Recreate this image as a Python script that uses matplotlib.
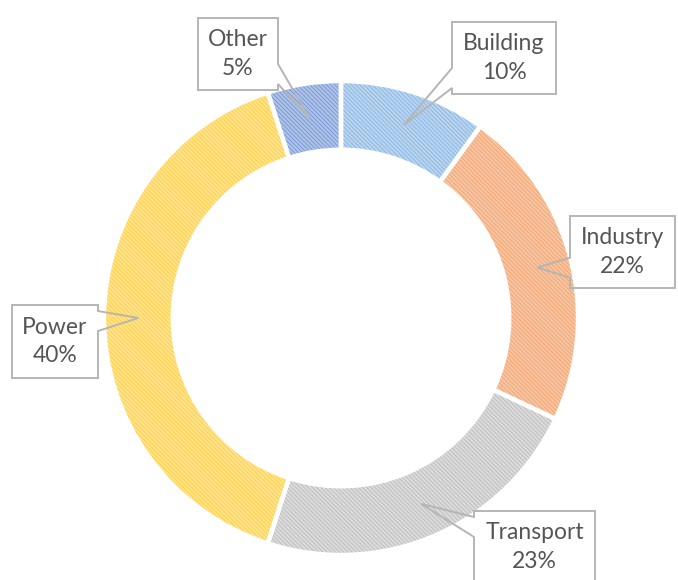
import numpy as np
import matplotlib
matplotlib.use("Agg")
import matplotlib.pyplot as plt
from matplotlib.patches import Polygon

sectors = ["Building", "Industry", "Transport", "Power", "Other"]
shares = [10, 22, 23, 40, 5]
face_colors = ["#BAD5F0", "#F8C6A4", "#DCDCDC", "#FFE38C", "#AFC3E8"]
hatch_colors = ["#8CB8E2", "#F2A470", "#BEBEBE", "#FFD04A", "#7B9BD6"]

# layout: pixel geometry of the reference (678 x 580)
W, H = 678, 580
CX, CY, R = 341, 318, 237
RING = 0.29
label_boxes = {  # x0, y_top, x1, y_bottom in pixels
    "Building": (452, 22, 556, 94),
    "Industry": (570, 216, 675, 288),
    "Transport": (474, 511, 595, 583),
    "Power": (12, 305, 98, 378),
    "Other": (198, 18, 278, 90),
}

plt.rcParams["hatch.linewidth"] = 0.7
plt.rcParams["font.family"] = ["Lato", "DejaVu Sans"]


def px(x, y):
    return (x - CX) / R, (CY - y) / R


def callout(ax, box, tip, text):
    x0, y1 = px(box[0], box[1])
    x1, y0 = px(box[2], box[3])
    tx, ty = tip
    hw, m = 10 / R, 16 / R
    d = {"left": x0 - tx, "right": tx - x1, "bottom": y0 - ty, "top": ty - y1}
    side = max(d, key=d.get)
    pts = [(x0, y0)]
    if side == "bottom":
        c = np.clip(tx, x0 + m, x1 - m)
        pts += [(c - hw, y0), tip, (c + hw, y0)]
    pts.append((x1, y0))
    if side == "right":
        c = np.clip(ty, y0 + m, y1 - m)
        pts += [(x1, c - hw), tip, (x1, c + hw)]
    pts.append((x1, y1))
    if side == "top":
        c = np.clip(tx, x0 + m, x1 - m)
        pts += [(c + hw, y1), tip, (c - hw, y1)]
    pts.append((x0, y1))
    if side == "left":
        c = np.clip(ty, y0 + m, y1 - m)
        pts += [(x0, c + hw), tip, (x0, c - hw)]
    ax.add_patch(Polygon(pts, closed=True, fill=False, edgecolor="#B5B5B5",
                         linewidth=1.4, joinstyle="miter", zorder=5))
    ax.text((x0 + x1) / 2, (y0 + y1) / 2, text, ha="center", va="center",
            fontsize=16.5, color="#555555", linespacing=1.45, zorder=6)


fig = plt.figure(figsize=(W / 100, H / 100), dpi=100)
ax = fig.add_axes([0, 0, 1, 1])

wedges, _ = ax.pie(shares, radius=1, startangle=90, counterclock=False,
                   colors=face_colors,
                   wedgeprops=dict(width=RING, linewidth=0))
for w, hc in zip(wedges, hatch_colors):
    w.set_edgecolor(hc)
    w.set_hatch("\\\\\\\\\\\\\\\\")
# white separators
ax.pie(shares, radius=1, startangle=90, counterclock=False,
       colors=["none"] * len(shares),
       wedgeprops=dict(width=RING, linewidth=3.2, edgecolor="white", fill=False))

r_mid = 1 - RING / 2
for w, name, val in zip(wedges, sectors, shares):
    ang = np.deg2rad((w.theta1 + w.theta2) / 2)
    tip = (r_mid * np.cos(ang), r_mid * np.sin(ang))
    callout(ax, label_boxes[name], tip, f"{name}\n{val}%")

ax.set_xlim(-CX / R, (W - CX) / R)
ax.set_ylim(-(H - CY) / R, CY / R)
ax.set_aspect("auto")
ax.axis("off")

fig.savefig("out.png", dpi=100)
